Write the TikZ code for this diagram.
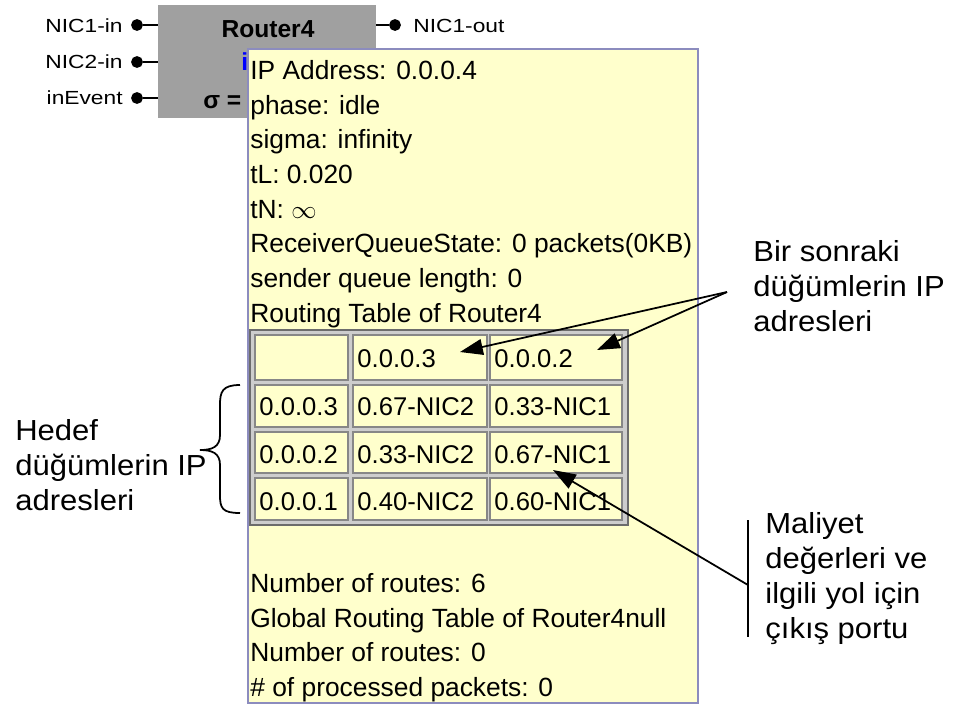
\documentclass[tikz,border=0pt]{standalone}
\usepackage{fontspec}
\setmainfont{Liberation Sans}
\newfontfamily\notefont{Liberation Sans}[FakeStretch=1.07]
\newfontfamily\portfont{Liberation Sans}[FakeStretch=1.2]
\usetikzlibrary{arrows.meta}
\definecolor{tipyellow}{RGB}{255,255,204}
\definecolor{tipline}{RGB}{140,140,190}
\definecolor{boxgray}{RGB}{160,160,160}
\definecolor{cellgray}{RGB}{135,135,135}
\definecolor{framegray}{RGB}{205,205,205}
\definecolor{infoblue}{RGB}{0,0,255}
\tikzset{
	routerbox/.style={fill=boxgray, minimum width=4.36cm, minimum height=2.26cm, inner sep=0pt},
	portdot/.style={circle, fill=black, draw=black, line width=1pt, minimum size=0.2cm, inner sep=0pt},
	portlbl/.style={font=\portfont\fontsize{10.8}{12}\selectfont, inner sep=0pt},
	tipbox/.style={draw=tipline, fill=tipyellow, line width=0.8pt, minimum width=9cm, minimum height=13.08cm, inner sep=0pt},
	tiptext/.style={font=\fontsize{15}{19.75}\selectfont, align=left, inner sep=0pt, anchor=north west},
	tableframe/.style={draw=cellgray!80!black, fill=framegray, line width=1.2pt},
	cellbox/.style={draw=cellgray, fill=tipyellow, line width=1.5pt},
	celltext/.style={font=\fontsize{14.6}{16}\selectfont, inner sep=0pt, anchor=base west},
	notetext/.style={font=\notefont\fontsize{16.5}{19.9}\selectfont, align=left, inner sep=0pt, anchor=north west},
	notearrow/.style={line width=1pt, -{Triangle[length=13pt,width=9pt]}},
	noteline/.style={line width=1pt}
}

\begin{document}
\begin{tikzpicture}[x=0.02cm, y=-0.02cm]
		%%%%% START %%%%%
		\useasboundingbox (0,0) rectangle (955,707);
		
		% router block with its ports
		\node[routerbox] (router) at (267,61.5) {};
		\node[font=\bfseries\fontsize{14}{16}\selectfont, anchor=base, inner sep=0pt] (rtitle) at (268,37) {Router4};
		\node[font=\bfseries\fontsize{14}{16}\selectfont, text=infoblue, anchor=base west, inner sep=0pt] (rinfo) at (241,70) {i};
		\node[font=\bfseries\fontsize{14}{16}\selectfont, anchor=base west, inner sep=0pt] (rsigma) at (203,108) {σ =};
		
		\node[portdot] (nic1in) at (137,25) {};
		\node[portdot] (nic2in) at (137,62) {};
		\node[portdot] (evin) at (137,98) {};
		\node[portdot] (nic1out) at (395,25) {};
		\draw[line width=1pt] (nic1in) -- (nic1in -| router.west);
		\draw[line width=1pt] (nic2in) -- (nic2in -| router.west);
		\draw[line width=1pt] (evin) -- (evin -| router.west);
		\draw[line width=1pt] (nic1out) -- (nic1out -| router.east);
		\node[portlbl, anchor=base east] (lnic1in) at (123,32) {NIC1-in};
		\node[portlbl, anchor=base east] (lnic2in) at (123,68) {NIC2-in};
		\node[portlbl, anchor=base east] (levin) at (123,104) {inEvent};
		\node[portlbl, anchor=base west] (lnic1out) at (413,32) {NIC1-out};
		
		% tooltip
		\node[tipbox] (tip) at (473,376) {};
		\node[tiptext] (tiptop) at (250,60) {IP Address: 0.0.0.4\\phase: idle\\sigma: infinity\\tL: 0.020\\tN: $\infty$\\ReceiverQueueState: 0 packets(0KB)\\sender queue length: 0\\Routing Table of Router4};
		\node[tiptext] (tipbot) at (250,573) {Number of routes: 6\\Global Routing Table of Router4null\\Number of routes: 0\\\# of processed packets: 0};
		
		% routing table
		\draw[tableframe] (250,330) rectangle (628,525);
		
		\draw[cellbox] (255,335) rectangle (348,380);
		\draw[cellbox] (353,335) rectangle (487,380);
		\draw[cellbox] (490,335) rectangle (622,380);
		\draw[cellbox] (255,385) rectangle (348,427);
		\draw[cellbox] (353,385) rectangle (487,427);
		\draw[cellbox] (490,385) rectangle (622,427);
		\draw[cellbox] (255,432) rectangle (348,473);
		\draw[cellbox] (353,432) rectangle (487,473);
		\draw[cellbox] (490,432) rectangle (622,473);
		\draw[cellbox] (255,478) rectangle (348,520);
		\draw[cellbox] (353,478) rectangle (487,520);
		\draw[cellbox] (490,478) rectangle (622,520);
		
		\node[celltext] (hop3) at (357,367) {0.0.0.3};
		\node[celltext] (hop2) at (494,367) {0.0.0.2};
		\node[celltext] (dst3) at (259,415) {0.0.0.3};
		\node[celltext] (c32) at (357,415) {0.67-NIC2};
		\node[celltext] (c31) at (494,415) {0.33-NIC1};
		\node[celltext] (dst2) at (259,463) {0.0.0.2};
		\node[celltext] (c22) at (357,463) {0.33-NIC2};
		\node[celltext] (c21) at (494,463) {0.67-NIC1};
		\node[celltext] (dst1) at (259,510) {0.0.0.1};
		\node[celltext] (c12) at (357,510) {0.40-NIC2};
		\node[celltext] (c11) at (494,510) {0.60-NIC1};
		
		% annotations
		\node[notetext] (nextnote) at (753,240) {Bir sonraki\\düğümlerin IP\\adresleri};
		\node[notetext] (destnote) at (15,419) {Hedef\\düğümlerin IP\\adresleri};
		\node[notetext] (costnote) at (765,512) {Maliyet\\değerleri ve\\ilgili yol için\\çıkış portu};
		
		\coordinate (nextjoin) at (727,292);
		\coordinate (nexttipA) at (460,352);
		\coordinate (nexttipB) at (597,350);
		\draw[notearrow] (nextjoin) -- (nexttipA);
		\draw[notearrow] (nextjoin) -- (nexttipB);
		
		\draw[noteline] (240,385) .. controls (222,385) and (220,392) .. (220,405) -- (220,435) .. controls (220,447) and (212,450) .. (200,450) .. controls (212,450) and (220,453) .. (220,465) -- (220,495) .. controls (220,508) and (222,513) .. (240,513);
		
		\coordinate (costtop) at (748,520);
		\coordinate (costbot) at (748,637);
		\coordinate (costjoin) at (748,585);
		\coordinate (costtip) at (553,470);
		\draw[noteline] (costtop) -- (costbot);
		\draw[notearrow] (costjoin) -- (costtip);
		
		%%%%% END %%%%%
\end{tikzpicture}
\end{document}
